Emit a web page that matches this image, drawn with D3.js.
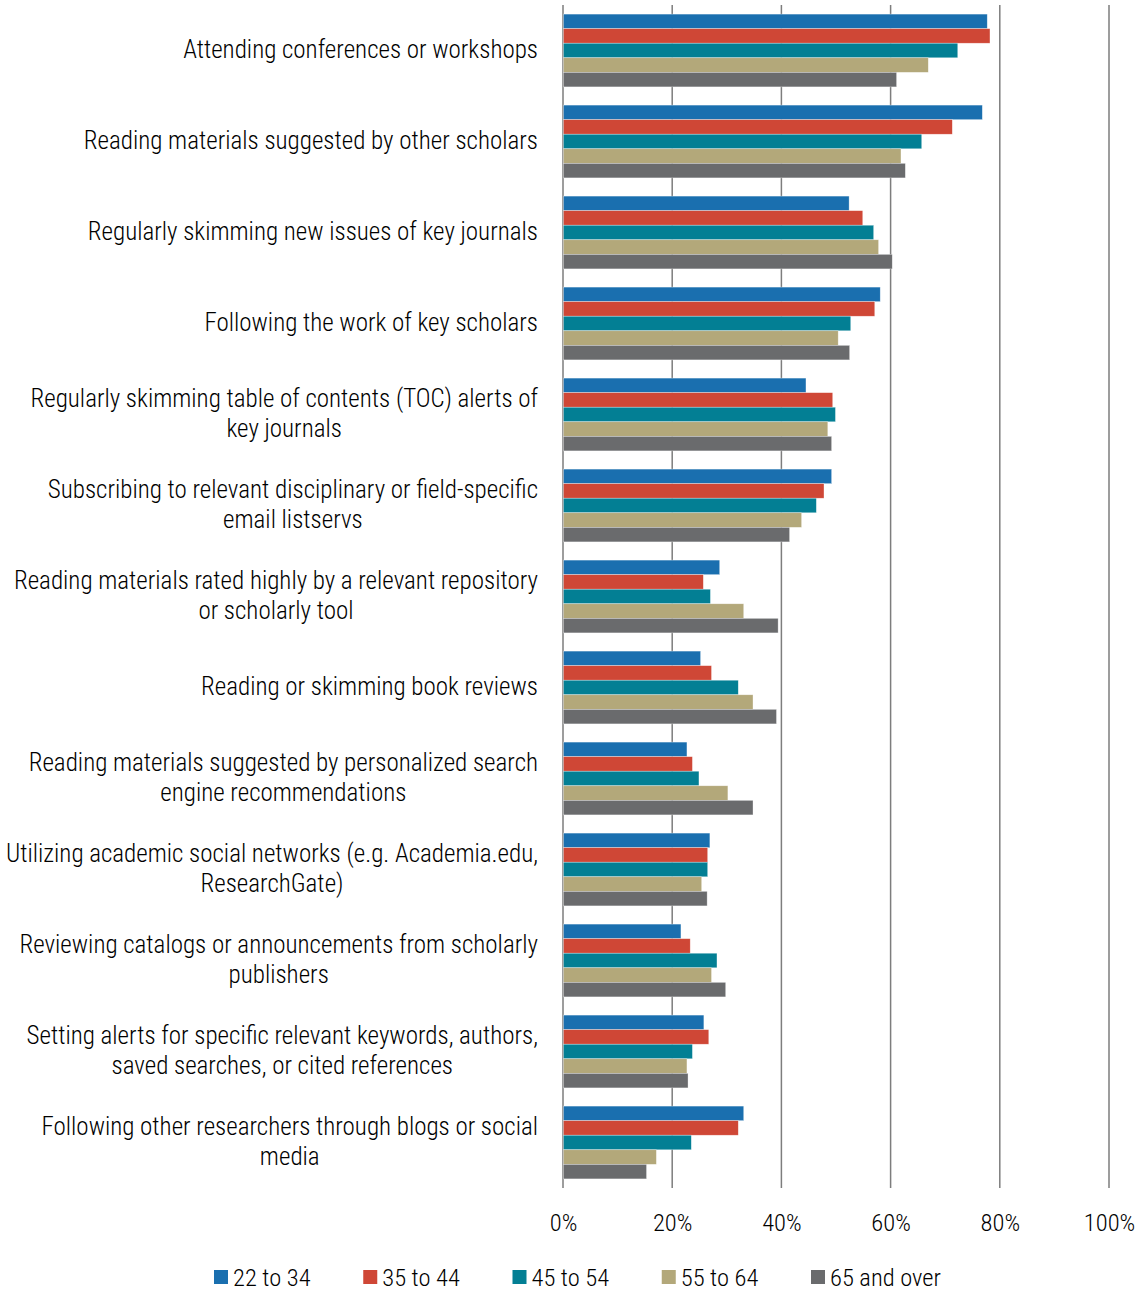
<!DOCTYPE html>
<html><head><meta charset="utf-8">
<script src="https://cdn.jsdelivr.net/npm/d3@7"></script>
<style>
html,body{margin:0;padding:0;background:#fff;}
svg text{font-family:"Roboto Condensed","Liberation Sans Narrow","Arial Narrow",sans-serif;font-weight:300;fill:#000;}
</style></head>
<body>
<svg id="chart" width="1141" height="1295"></svg>
<script>
const categories = [
  ["Attending conferences or workshops"],
  ["Reading materials suggested by other scholars"],
  ["Regularly skimming new issues of key journals"],
  ["Following the work of key scholars"],
  ["Regularly skimming table of contents (TOC) alerts of","key journals"],
  ["Subscribing to relevant disciplinary or field-specific","email listservs"],
  ["Reading materials rated highly by a relevant repository","or scholarly tool"],
  ["Reading or skimming book reviews"],
  ["Reading materials suggested by personalized search","engine recommendations"],
  ["Utilizing academic social networks (e.g. Academia.edu,","ResearchGate)"],
  ["Reviewing catalogs or announcements from scholarly","publishers"],
  ["Setting alerts for specific relevant keywords, authors,","saved searches, or cited references"],
  ["Following other researchers through blogs or social","media"]
];
const seriesNames = ["22 to 34","35 to 44","45 to 54","55 to 64","65 and over"];
const s22to34 = [77.7,76.8,52.4,58.1,44.5,49.2,28.7,25.2,22.7,26.9,21.6,25.8,33.1];
const s35to44 = [78.2,71.3,54.9,57.1,49.4,47.8,25.7,27.2,23.7,26.5,23.3,26.7,32.1];
const s45to54 = [72.3,65.7,56.9,52.7,49.9,46.4,27.0,32.1,24.9,26.5,28.2,23.7,23.5];
const s55to64 = [66.9,61.9,57.8,50.4,48.5,43.7,33.1,34.8,30.2,25.4,27.2,22.7,17.1];
const s65over = [61.1,62.7,60.3,52.5,49.2,41.5,39.4,39.1,34.8,26.4,29.8,22.9,15.3];
const seriesValues = [s22to34,s35to44,s45to54,s55to64,s65over];
const colors = ["#1a6faf","#cf4736","#037f94","#b3a87a","#6a6b6d"];
const xTicks = [0,20,40,60,80,100];

const FS = 25;
const svg = d3.select("#chart");
const x = d3.scaleLinear().domain([0,100]).range([563,1109]);
const y = d3.scaleBand().domain(d3.range(categories.length)).range([5,1188]).paddingInner(0.2).paddingOuter(0.1);
const ySub = d3.scaleBand().domain(d3.range(seriesNames.length)).range([0,y.bandwidth()]);

// gridlines
svg.append("g").selectAll("line").data(xTicks).join("line")
  .attr("x1",d=>x(d)).attr("x2",d=>x(d)).attr("y1",5).attr("y2",1188)
  .attr("stroke","#7d7d7d").attr("stroke-width",1.5);

// bars
const groups = svg.append("g").selectAll("g").data(categories).join("g")
  .attr("transform",(d,i)=>`translate(0,${y(i)})`);
groups.each(function(d,i){
  d3.select(this).selectAll("rect").data(seriesValues.map(s=>s[i])).join("rect")
    .attr("x",x(0)+0.5).attr("y",(v,j)=>ySub(j))
    .attr("width",v=>x(v)-x(0)-0.5).attr("height",ySub.bandwidth())
    .attr("fill",(v,j)=>colors[j])
    .attr("stroke","rgba(255,255,255,0.55)").attr("stroke-width",0.6);
});

// category labels: block right-aligned at 538, lines centered within block
const labG = svg.append("g");
categories.forEach((lines,i)=>{
  const n = lines.length;
  const cy = y(i)+y.bandwidth()/2;
  const texts = lines.map((line,k)=> labG.append("text")
    .attr("font-size",FS)
    .attr("y", cy - (n-1)*30/2 + k*30 + 7)
    .text(line));
  const widths = texts.map(t=>t.node().getComputedTextLength());
  const maxW = d3.max(widths);
  texts.forEach(t=> t.attr("text-anchor","middle").attr("x", 538 - maxW/2));
});

// x axis
const xAxis = d3.axisBottom(x).tickValues(xTicks).tickFormat(d=>d+"%").tickSize(0).tickPadding(0);
const ax = svg.append("g").attr("transform","translate(0,1188)").call(xAxis);
ax.select(".domain").remove();
ax.selectAll("text").attr("font-size",24.5).attr("dy",0).attr("y",43).style("fill","#000")
  .style("font-family","'Roboto Condensed',sans-serif").style("font-weight",300);

// legend
const legX = d3.scalePoint().domain(seriesNames).range([214,811]);
const leg = svg.append("g").selectAll("g").data(seriesNames).join("g")
  .attr("transform",d=>`translate(${legX(d)},1270)`);
leg.append("rect").attr("width",14).attr("height",14).attr("fill",(d,i)=>colors[i]);
leg.append("text").attr("x",19).attr("y",16).attr("font-size",24.5).text(d=>d);
</script>
</body></html>
